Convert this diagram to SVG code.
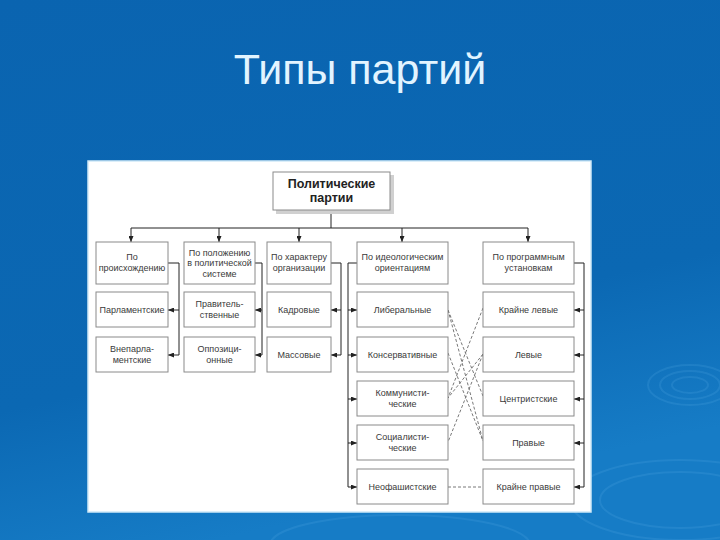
<svg xmlns="http://www.w3.org/2000/svg" width="720" height="540" viewBox="0 0 720 540">
<defs>
<linearGradient id="bg" x1="0" y1="0" x2="0.3" y2="1">
<stop offset="0" stop-color="#0a64b0"/>
<stop offset="0.7" stop-color="#0b68b3"/>
<stop offset="1" stop-color="#167cc6"/>
</linearGradient>
<marker id="ah" markerUnits="userSpaceOnUse" markerWidth="6" markerHeight="5" refX="6" refY="2.5" orient="auto">
<path d="M0,0 L6,2.5 L0,5 z" fill="#222"/>
</marker>
<style>
.box{fill:#fff;stroke:#8a8a8a;stroke-width:1}
.sh{fill:#d0d0d0}
.t{font-family:"Liberation Sans",Arial,sans-serif;font-size:9px;fill:#3a3a3a;text-anchor:middle}
.tb{font-family:"Liberation Sans",Arial,sans-serif;font-size:12.5px;font-weight:bold;fill:#222;text-anchor:middle}
.c{fill:none;stroke:#222;stroke-width:1}
.a{fill:none;stroke:#222;stroke-width:1;marker-end:url(#ah)}
.d{fill:none;stroke:#555;stroke-width:0.8;stroke-dasharray:3,2}
.rip{fill:none;stroke:#5fb0e8;stroke-opacity:0.18;stroke-width:2}
</style>
</defs>
<rect x="0" y="0" width="720" height="540" fill="url(#bg)"/>
<g id="ripples">
<ellipse class="rip" cx="690" cy="385" rx="30" ry="14"/>
<ellipse class="rip" cx="690" cy="385" rx="18" ry="8"/>
<ellipse class="rip" cx="690" cy="385" rx="42" ry="20"/>
<ellipse class="rip" cx="680" cy="500" rx="110" ry="40"/>
<ellipse class="rip" cx="680" cy="500" rx="80" ry="28"/>
<ellipse class="rip" cx="400" cy="545" rx="130" ry="30"/>
</g>
<text x="360" y="84" font-family="'Liberation Sans',Arial,sans-serif" font-size="43" fill="#e2f4ff" text-anchor="middle">Типы партий</text>
<rect x="88" y="161" width="503" height="351" fill="#fff" stroke="#cfe9f7" stroke-width="1.5"/>

<g id="connectors">
<path class="c" d="M331,210 V228 M131,228 H528"/>
<path class="a" d="M131,228 V242"/>
<path class="a" d="M219,228 V242"/>
<path class="a" d="M299,228 V242"/>
<path class="a" d="M402,228 V242"/>
<path class="a" d="M528,228 V242"/>
<path class="c" d="M168,263 H179 V355"/>
<path class="a" d="M179,310 H168"/>
<path class="a" d="M179,355 H168"/>
<path class="c" d="M255,263 H262 V355"/>
<path class="a" d="M262,310 H255"/>
<path class="a" d="M262,355 H255"/>
<path class="c" d="M331,263 H341 V355"/>
<path class="a" d="M341,310 H331"/>
<path class="a" d="M341,355 H331"/>
<path class="c" d="M357,263 H348 V487"/>
<path class="a" d="M348,310 H357"/>
<path class="a" d="M348,355 H357"/>
<path class="a" d="M348,399 H357"/>
<path class="a" d="M348,443 H357"/>
<path class="a" d="M348,487 H357"/>
<path class="c" d="M574,263 H584 V487"/>
<path class="a" d="M584,310 H574"/>
<path class="a" d="M584,355 H574"/>
<path class="a" d="M584,399 H574"/>
<path class="a" d="M584,443 H574"/>
<path class="a" d="M584,487 H574"/>
<path class="d" d="M448,310 L483,396"/>
<path class="d" d="M448,310 L483,441"/>
<path class="d" d="M448,353 L483,441"/>
<path class="d" d="M483,308 L448,398"/>
<path class="d" d="M483,354 L448,398"/>
<path class="d" d="M483,354 L448,442"/>
<path class="d" d="M448,487 H483"/>
</g>

<g id="n-root">
<rect class="sh" x="276" y="175" width="118" height="39"/>
<rect class="box" x="273" y="172" width="117" height="38"/>
<text class="tb" x="331.5" y="188">Политические</text>
<text class="tb" x="331.5" y="202">партии</text>
</g>

<g id="n-origin"><rect class="box" x="96" y="242" width="72" height="42"/><text class="t" x="132" y="260">По</text><text class="t" x="132" y="271">происхождению</text></g>
<g id="n-position"><rect class="box" x="184" y="242" width="71" height="42"/><text class="t" x="219.5" y="256">По положению</text><text class="t" x="219.5" y="266">в политической</text><text class="t" x="219.5" y="277">системе</text></g>
<g id="n-organization"><rect class="box" x="267" y="242" width="64" height="42"/><text class="t" x="299" y="260">По характеру</text><text class="t" x="299" y="271">организации</text></g>
<g id="n-ideology"><rect class="box" x="357" y="242" width="91" height="42"/><text class="t" x="402.5" y="260">По идеологическим</text><text class="t" x="402.5" y="271">ориентациям</text></g>
<g id="n-program"><rect class="box" x="483" y="242" width="91" height="42"/><text class="t" x="528.5" y="260">По программным</text><text class="t" x="528.5" y="271">установкам</text></g>

<g id="n-parl"><rect class="box" x="96" y="292" width="72" height="35"/><text class="t" x="132" y="313">Парламентские</text></g>
<g id="n-extraparl"><rect class="box" x="96" y="337" width="72" height="35"/><text class="t" x="132" y="352">Внепарла-</text><text class="t" x="132" y="363">ментские</text></g>
<g id="n-gov"><rect class="box" x="184" y="292" width="71" height="35"/><text class="t" x="219.5" y="307">Правитель-</text><text class="t" x="219.5" y="318">ственные</text></g>
<g id="n-opp"><rect class="box" x="184" y="337" width="71" height="35"/><text class="t" x="219.5" y="352">Оппозици-</text><text class="t" x="219.5" y="363">онные</text></g>
<g id="n-cadre"><rect class="box" x="267" y="292" width="64" height="35"/><text class="t" x="299" y="313">Кадровые</text></g>
<g id="n-mass"><rect class="box" x="267" y="337" width="64" height="35"/><text class="t" x="299" y="358">Массовые</text></g>

<g id="n-liberal"><rect class="box" x="357" y="292" width="91" height="35"/><text class="t" x="402.5" y="313">Либеральные</text></g>
<g id="n-conservative"><rect class="box" x="357" y="337" width="91" height="35"/><text class="t" x="402.5" y="358">Консервативные</text></g>
<g id="n-communist"><rect class="box" x="357" y="381" width="91" height="35"/><text class="t" x="402.5" y="396">Коммунисти-</text><text class="t" x="402.5" y="407">ческие</text></g>
<g id="n-socialist"><rect class="box" x="357" y="425" width="91" height="35"/><text class="t" x="402.5" y="440">Социалисти-</text><text class="t" x="402.5" y="451">ческие</text></g>
<g id="n-neofascist"><rect class="box" x="357" y="469" width="91" height="35"/><text class="t" x="402.5" y="490">Неофашистские</text></g>

<g id="n-farleft"><rect class="box" x="483" y="292" width="91" height="35"/><text class="t" x="528.5" y="313">Крайне левые</text></g>
<g id="n-left"><rect class="box" x="483" y="337" width="91" height="35"/><text class="t" x="528.5" y="358">Левые</text></g>
<g id="n-centrist"><rect class="box" x="483" y="381" width="91" height="35"/><text class="t" x="528.5" y="402">Центристские</text></g>
<g id="n-right"><rect class="box" x="483" y="425" width="91" height="35"/><text class="t" x="528.5" y="446">Правые</text></g>
<g id="n-farright"><rect class="box" x="483" y="469" width="91" height="35"/><text class="t" x="528.5" y="490">Крайне правые</text></g>
</svg>
